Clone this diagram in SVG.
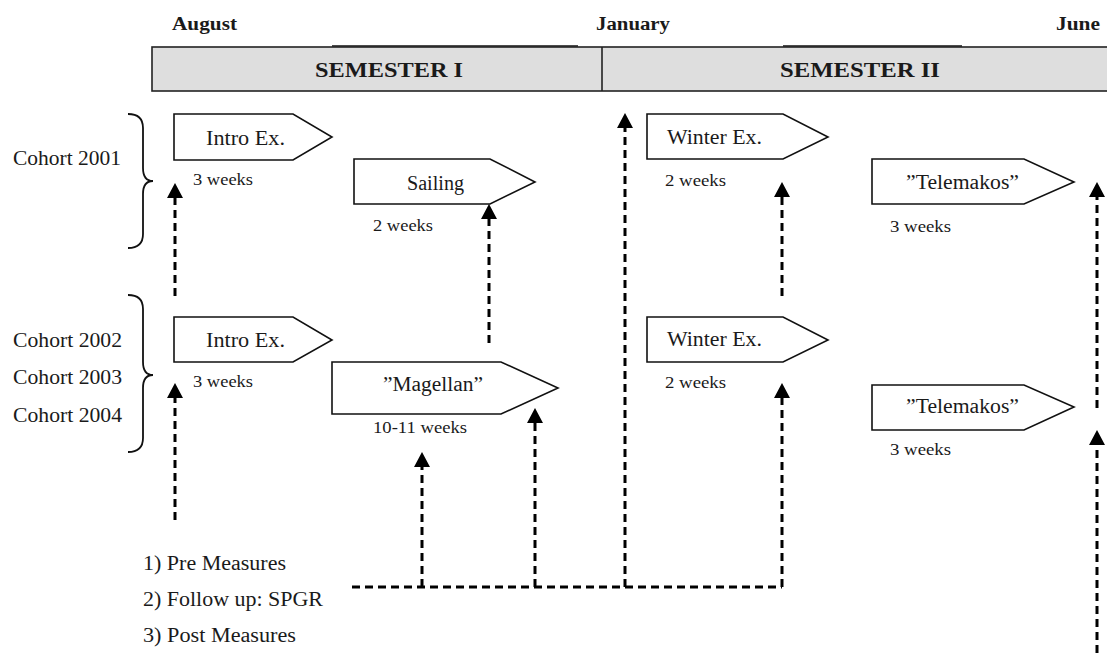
<svg xmlns="http://www.w3.org/2000/svg" width="1107" height="653" viewBox="0 0 1107 653">
  <style>
    text { font-family: "Liberation Serif", "Times New Roman", serif; fill: #1a1a1a; }
    .month { font-size: 18px; font-weight: bold; }
    .sem { font-size: 22px; font-weight: bold; text-anchor: middle; }
    .label { font-size: 20px; }
    .small { font-size: 16px; }
    .box { fill: #ffffff; stroke: #111111; stroke-width: 1.6; }
    .brace { fill: none; stroke: #111111; stroke-width: 1.8; }
    .dash { fill: none; stroke: #000000; stroke-width: 3; stroke-dasharray: 8 5; }
  </style>
  <defs>
    <!-- filled arrowhead; the line stops at the base, the head extends forward -->
    <marker id="head" viewBox="0 0 15 16" refX="0" refY="8" markerWidth="15" markerHeight="16" markerUnits="userSpaceOnUse" orient="auto">
      <path d="M0,0 L15,8 L0,16 Z" fill="#000"/>
    </marker>
  </defs>

  <rect width="1107" height="653" fill="#ffffff"/>

  <!-- calendar header -->
  <g id="header">
    <text class="month" x="172" y="30" textLength="65" lengthAdjust="spacingAndGlyphs">August</text>
    <text class="month" x="596" y="30" textLength="74" lengthAdjust="spacingAndGlyphs">January</text>
    <text class="month" x="1056" y="30" textLength="44" lengthAdjust="spacingAndGlyphs">June</text>
    <line x1="332" y1="46" x2="578" y2="46" stroke="#111" stroke-width="1.6"/>
    <line x1="783" y1="46" x2="962" y2="46" stroke="#111" stroke-width="1.6"/>
    <rect x="152" y="47" width="960" height="44" fill="#dedede" stroke="#222" stroke-width="1.6"/>
    <line x1="602" y1="47" x2="602" y2="91" stroke="#222" stroke-width="1.6"/>
    <text class="sem" x="389" y="77" textLength="148" lengthAdjust="spacingAndGlyphs">SEMESTER I</text>
    <text class="sem" x="860" y="77" textLength="160" lengthAdjust="spacingAndGlyphs">SEMESTER II</text>
  </g>

  <!-- cohort groupings -->
  <g id="cohort-2001">
    <text class="label" x="13" y="165" textLength="108" lengthAdjust="spacingAndGlyphs">Cohort 2001</text>
    <path class="brace" d="M128,114 Q143,114 143,128 L143,168 Q143,181 153,181 Q143,181 143,194 L143,234 Q143,248 128,248"/>
  </g>
  <g id="cohort-2002-2004">
    <text class="label" x="13" y="347" textLength="109" lengthAdjust="spacingAndGlyphs">Cohort 2002</text>
    <text class="label" x="13" y="384" textLength="109" lengthAdjust="spacingAndGlyphs">Cohort 2003</text>
    <text class="label" x="13" y="422" textLength="109" lengthAdjust="spacingAndGlyphs">Cohort 2004</text>
    <path class="brace" d="M128,295 Q143,295 143,309 L143,362 Q143,375 153,375 Q143,375 143,388 L143,438 Q143,452 128,452"/>
  </g>

  <!-- activities, cohort 2001 -->
  <g id="intro-2001">
    <polygon class="box" points="174,114 293,114 332,137 293,160 174,160"/>
    <text class="label" x="206" y="145" textLength="79" lengthAdjust="spacingAndGlyphs">Intro Ex.</text>
    <text class="small" x="193" y="185" textLength="60" lengthAdjust="spacingAndGlyphs">3 weeks</text>
  </g>
  <g id="sailing-2001">
    <polygon class="box" points="354,159 490,159 535,182 490,204 354,204"/>
    <text class="label" x="407" y="190" textLength="57" lengthAdjust="spacingAndGlyphs">Sailing</text>
    <text class="small" x="373" y="231" textLength="60" lengthAdjust="spacingAndGlyphs">2 weeks</text>
  </g>
  <g id="winter-2001">
    <polygon class="box" points="647,114 783,114 828,137 783,159 647,159"/>
    <text class="label" x="667" y="144" textLength="95" lengthAdjust="spacingAndGlyphs">Winter Ex.</text>
    <text class="small" x="665" y="186" textLength="61" lengthAdjust="spacingAndGlyphs">2 weeks</text>
  </g>
  <g id="telemakos-2001">
    <polygon class="box" points="872,159 1024,159 1074,182 1024,204 872,204"/>
    <text class="label" x="906" y="189" textLength="113" lengthAdjust="spacingAndGlyphs">”Telemakos”</text>
    <text class="small" x="890" y="232" textLength="61" lengthAdjust="spacingAndGlyphs">3 weeks</text>
  </g>

  <!-- activities, cohorts 2002-2004 -->
  <g id="intro-2002">
    <polygon class="box" points="174,317 293,317 332,340 293,362 174,362"/>
    <text class="label" x="206" y="347" textLength="79" lengthAdjust="spacingAndGlyphs">Intro Ex.</text>
    <text class="small" x="193" y="387" textLength="60" lengthAdjust="spacingAndGlyphs">3 weeks</text>
  </g>
  <g id="magellan-2002">
    <polygon class="box" points="332,362 501,362 558,388 501,414 332,414"/>
    <text class="label" x="383" y="391" textLength="100" lengthAdjust="spacingAndGlyphs">”Magellan”</text>
    <text class="small" x="373" y="433" textLength="94" lengthAdjust="spacingAndGlyphs">10-11 weeks</text>
  </g>
  <g id="winter-2002">
    <polygon class="box" points="647,317 783,317 828,340 783,362 647,362"/>
    <text class="label" x="667" y="346" textLength="95" lengthAdjust="spacingAndGlyphs">Winter Ex.</text>
    <text class="small" x="665" y="388" textLength="61" lengthAdjust="spacingAndGlyphs">2 weeks</text>
  </g>
  <g id="telemakos-2002">
    <polygon class="box" points="872,385 1024,385 1074,407 1024,430 872,430"/>
    <text class="label" x="906" y="413" textLength="113" lengthAdjust="spacingAndGlyphs">”Telemakos”</text>
    <text class="small" x="890" y="455" textLength="61" lengthAdjust="spacingAndGlyphs">3 weeks</text>
  </g>

  <!-- measurement legend -->
  <g id="legend">
    <text class="label" x="143" y="570" textLength="143" lengthAdjust="spacingAndGlyphs">1) Pre Measures</text>
    <text class="label" x="143" y="606" textLength="180" lengthAdjust="spacingAndGlyphs">2) Follow up: SPGR</text>
    <text class="label" x="143" y="642" textLength="153" lengthAdjust="spacingAndGlyphs">3) Post Measures</text>
  </g>

  <!-- measurement arrows -->
  <g id="connectors">
    <path class="dash" d="M175,296 L175,198" marker-end="url(#head)"/>
    <path class="dash" d="M489,343 L489,219" marker-end="url(#head)"/>
    <path class="dash" d="M782,296 L782,197" marker-end="url(#head)"/>
    <path class="dash" d="M1097,408 L1097,197" marker-end="url(#head)"/>
    <path class="dash" d="M175,520 L175,398" marker-end="url(#head)"/>
    <path class="dash" d="M1097,653 L1097,445" marker-end="url(#head)"/>
    <path class="dash" d="M352,587 L782,587"/>
    <path class="dash" d="M422,587 L422,467" marker-end="url(#head)"/>
    <path class="dash" d="M535,587 L535,423" marker-end="url(#head)"/>
    <path class="dash" d="M625,587 L625,128" marker-end="url(#head)"/>
    <path class="dash" d="M782,587 L782,398" marker-end="url(#head)"/>
  </g>
</svg>
